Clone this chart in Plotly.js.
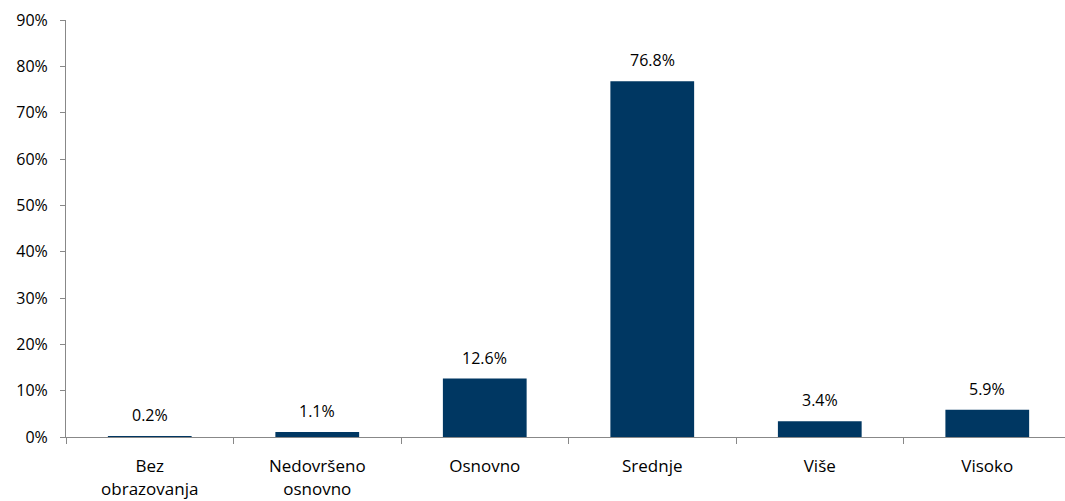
<!DOCTYPE html>
<html><head><meta charset="utf-8">
<script src="https://cdn.plot.ly/plotly-3.0.1.min.js"></script>
<style>html,body{margin:0;padding:0;background:#fff}#c{width:1065px;height:501px}</style>
</head><body><div id="c"></div>
<script>
const categories = ["Bez<br>obrazovanja", "Nedovršeno<br>osnovno", "Osnovno", "Srednje", "Više", "Visoko"];
const values = [0.2, 1.1, 12.6, 76.8, 3.4, 5.9];
const yTicks = [0, 10, 20, 30, 40, 50, 60, 70, 80, 90];
const yTickLabels = yTicks.map(v => v + "%");

const font = {family: "Open Sans, Liberation Sans, Arial, sans-serif", size: 16, color: "#000"};
const xFont = {family: "Open Sans, Liberation Sans, Arial, sans-serif", size: 17, color: "#000"};
const labels = values.map((v, i) => ({
  x: categories[i], y: v, xref: "x", yref: "y",
  text: v.toFixed(1) + "%", showarrow: false,
  yanchor: "bottom", yshift: 8, font: font
}));
Plotly.newPlot("c", [{
  type: "bar",
  x: categories,
  y: values,
  marker: {color: "#003762"},
  width: 0.5,
  hoverinfo: "none"
}], {
  width: 1065, height: 501,
  margin: {l: 66, r: 0, t: 20, b: 64},
  paper_bgcolor: "#fff", plot_bgcolor: "#fff",
  font: font,
  showlegend: false,
  annotations: labels,
  xaxis: {
    range: [-0.5, 5.464],
    showline: true, linecolor: "#888", linewidth: 1,
    ticks: "outside", tickson: "boundaries", ticklen: 6, tickcolor: "#888",
    showgrid: false, zeroline: false,
    ticklabelstandoff: 14,
    tickfont: xFont
  },
  yaxis: {
    range: [0, 90],
    tickvals: yTicks, ticktext: yTickLabels,
    showline: true, linecolor: "#888", linewidth: 1,
    ticks: "outside", ticklen: 5, tickcolor: "#888",
    showgrid: false, zeroline: false,
    ticklabelstandoff: 9,
    tickfont: font
  }
}, {displayModeBar: false, staticPlot: true});
</script></body></html>
